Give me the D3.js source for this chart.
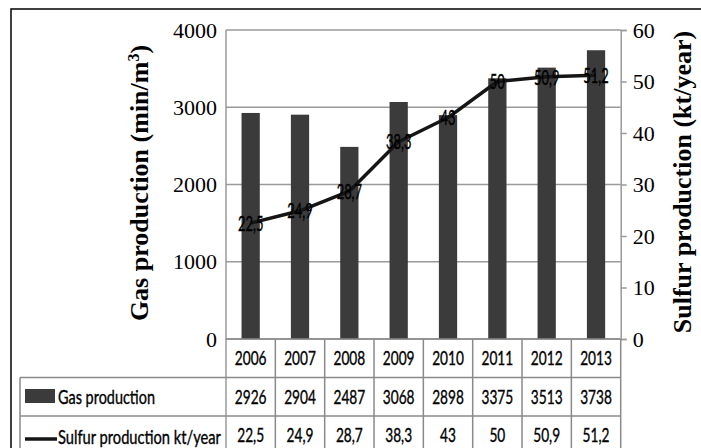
<!DOCTYPE html>
<html lang="en">
<head>
<meta charset="UTF-8">
<title>Gas and sulfur production</title>
<script src="https://d3js.org/d3.v7.min.js"></script>
<style>
  body { margin: 0; background: #fff; }
  .serif { font-family: "Liberation Serif", "Times New Roman", serif; }
  .narrow { font-family: Lato, "DejaVu Sans Condensed", sans-serif; fill: #000; stroke: #000; stroke-width: 0.35px; }
</style>
</head>
<body>
<script>
var years = ["2006", "2007", "2008", "2009", "2010", "2011", "2012", "2013"];
var gasProduction = [2926, 2904, 2487, 3068, 2898, 3375, 3513, 3738];
var sulfurProduction = [22.5, 24.9, 28.7, 38.3, 43, 50, 50.9, 51.2];
var gasTicks = [0, 1000, 2000, 3000, 4000];
var sulfurTicks = [0, 10, 20, 30, 40, 50, 60];

var width = 701, height = 448;
var plotLeft = 226, plotRight = 620.7, plotTop = 30, plotBottom = 339;
var rowH = 38.5;

var svg = d3.select("body").append("svg")
    .attr("width", width)
    .attr("height", height);

var x = d3.scaleBand().domain(years).range([plotLeft, plotRight]);
var yGas = d3.scaleLinear().domain([0, 4000]).range([plotBottom, plotTop]);
var ySul = d3.scaleLinear().domain([0, 60]).range([plotBottom, plotTop]);
var fmt = function (v) { return String(v).replace(".", ","); };
var cx = function (i) { return x(years[i]) + x.bandwidth() / 2; };

// outer frame
svg.append("rect")
    .attr("x", 11).attr("y", 9)
    .attr("width", 800).attr("height", 600)
    .attr("fill", "none").attr("stroke", "#111").attr("stroke-width", 1.6);

// grid lines
svg.append("g").selectAll("line").data(gasTicks).enter().append("line")
    .attr("x1", plotLeft).attr("x2", plotRight)
    .attr("y1", d => yGas(d)).attr("y2", d => yGas(d))
    .attr("stroke", "#9a9a9a").attr("stroke-width", 1.5);

// left axis labels
svg.append("g").selectAll("text").data(gasTicks).enter().append("text")
    .attr("class", "serif")
    .attr("x", 217).attr("y", d => yGas(d)).attr("dy", "0.35em")
    .attr("text-anchor", "end").attr("font-size", 22)
    .text(d => d);

// right axis with ticks
var rAxis = svg.append("g").attr("transform", "translate(" + plotRight + ",0)")
    .call(d3.axisRight(ySul).tickValues(sulfurTicks).tickSize(6).tickPadding(6));
rAxis.select(".domain").attr("stroke", "#9a9a9a").attr("stroke-width", 1.5);
rAxis.selectAll(".tick line").attr("stroke", "#9a9a9a").attr("stroke-width", 1.5);
rAxis.selectAll(".tick text")
    .attr("class", "serif").attr("font-size", 22).attr("fill", "#000");

// left plot edge
svg.append("line")
    .attr("x1", plotLeft).attr("x2", plotLeft).attr("y1", plotTop).attr("y2", height)
    .attr("stroke", "#9a9a9a").attr("stroke-width", 1.5);

// bars
var barW = x.bandwidth() * 0.37;
svg.append("g").selectAll("rect").data(years).enter().append("rect")
    .attr("x", d => x(d) + (x.bandwidth() - barW) / 2)
    .attr("y", (d, i) => yGas(gasProduction[i]))
    .attr("width", barW)
    .attr("height", (d, i) => plotBottom - yGas(gasProduction[i]))
    .attr("fill", "#3b3b3b");

// sulfur line
var line = d3.line()
    .x((d, i) => cx(i))
    .y(d => ySul(d));
svg.append("path").datum(sulfurProduction)
    .attr("d", line)
    .attr("fill", "none").attr("stroke", "#151515").attr("stroke-width", 3.5)
    .attr("stroke-linejoin", "round");

svg.append("g").selectAll("text").data(sulfurProduction).enter().append("text")
    .attr("class", "narrow")
    .attr("transform", (d, i) => "translate(" + cx(i) + "," + ySul(d) + ") scale(0.68,1.15)")
    .attr("dy", "0.35em")
    .attr("text-anchor", "middle").attr("font-size", 19)
    .text(d => fmt(d));

// axis titles
svg.append("text")
    .attr("class", "serif")
    .attr("transform", "translate(148,183) rotate(-90)")
    .attr("text-anchor", "middle").attr("font-size", 26).attr("font-weight", "bold")
    .html('Gas production (min/m<tspan dy="-9" font-size="16">3</tspan><tspan dy="9">)</tspan>');

svg.append("text")
    .attr("class", "serif")
    .attr("transform", "translate(691,182) rotate(-90)")
    .attr("text-anchor", "middle").attr("font-size", 26).attr("font-weight", "bold")
    .text("Sulfur production (kt/year)");

// data table
var tbl = svg.append("g");
var gridC = "#8a8a8a";
var rowTops = [plotBottom, plotBottom + rowH, plotBottom + 2 * rowH, plotBottom + 3 * rowH];
tbl.append("line").attr("x1", plotLeft).attr("x2", plotRight)
    .attr("y1", plotBottom).attr("y2", plotBottom)
    .attr("stroke", gridC).attr("stroke-width", 1.5);
[rowTops[1], rowTops[2], rowTops[3]].forEach(function (yy) {
    tbl.append("line").attr("x1", 20).attr("x2", plotRight)
        .attr("y1", yy).attr("y2", yy)
        .attr("stroke", gridC).attr("stroke-width", 1.5);
});
years.forEach(function (yr) {
    tbl.append("line").attr("x1", x(yr) + x.bandwidth()).attr("x2", x(yr) + x.bandwidth())
        .attr("y1", plotBottom).attr("y2", height)
        .attr("stroke", gridC).attr("stroke-width", 1.5);
});
tbl.append("line").attr("x1", 20).attr("x2", 20)
    .attr("y1", rowTops[1]).attr("y2", height)
    .attr("stroke", gridC).attr("stroke-width", 1.5);

var cellText = function (vals, row) {
    tbl.append("g").selectAll("text").data(vals).enter().append("text")
        .attr("class", "narrow")
        .attr("transform", (d, i) => "translate(" + cx(i) + "," + (rowTops[row] + rowH / 2) + ") scale(0.74,1.05)")
        .attr("dy", "0.35em")
        .attr("text-anchor", "middle").attr("font-size", 18.5)
        .text(d => fmt(d));
};
cellText(years, 0);
cellText(gasProduction, 1);
cellText(sulfurProduction, 2);

// legend keys in the table, labels squeezed to the width they take in the original
var rowLabel = function (txt, y0, w) {
    var t = tbl.append("text").attr("class", "narrow")
        .attr("dy", "0.35em").attr("font-size", 18.5).text(txt);
    var sx = w / t.node().getComputedTextLength();
    t.attr("transform", "translate(58," + y0 + ") scale(" + sx + ",1.05)");
};
tbl.append("rect").attr("x", 25).attr("y", 389).attr("width", 30).attr("height", 14)
    .attr("fill", "#3b3b3b");
rowLabel("Gas production", rowTops[1] + rowH / 2, 97);
tbl.append("line").attr("x1", 25).attr("x2", 57).attr("y1", 439).attr("y2", 439)
    .attr("stroke", "#151515").attr("stroke-width", 3.5);
rowLabel("Sulfur production kt/year", 437, 163);
</script>
</body>
</html>
